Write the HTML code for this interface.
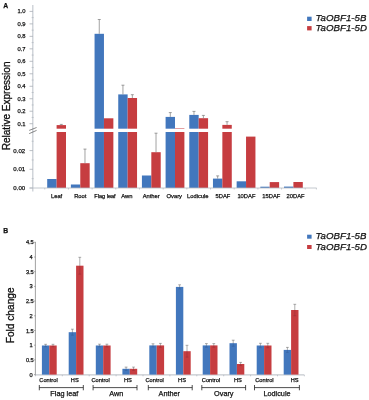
<!DOCTYPE html>
<html><head><meta charset="utf-8"><title>Figure</title>
<style>html,body{margin:0;padding:0;background:#fff;}svg{display:block;}text{font-family:"Liberation Sans",sans-serif;fill:#111;stroke:#111;stroke-width:0.25px;}</style>
</head><body>
<svg width="369" height="400" viewBox="0 0 369 400">
<rect x="0" y="0" width="369" height="400" fill="#ffffff"/>
<defs><filter id="soft" x="0" y="0" width="369" height="400" filterUnits="userSpaceOnUse"><feGaussianBlur stdDeviation="0.32"/></filter></defs>
<g opacity="0.999" filter="url(#soft)">
<text x="3.2" y="7.6" font-size="6.8" font-weight="bold" fill="#111">A</text>
<text transform="translate(9.6,150.3) rotate(-90)" font-size="10.05" fill="#111" style="stroke-width:0.32px">Relative Expression</text>
<line x1="32.8" y1="5" x2="32.8" y2="191.5" stroke="#c9ced4" stroke-width="1.3"/>
<line x1="29.5" y1="123.70" x2="32.8" y2="123.70" stroke="#9ea4ac" stroke-width="0.7"/>
<text x="25.6" y="125.75" font-size="5.8" text-anchor="end">0.1</text>
<line x1="31.6" y1="117.46" x2="33.7" y2="117.46" stroke="#aab0b8" stroke-width="0.6"/>
<line x1="29.5" y1="111.22" x2="32.8" y2="111.22" stroke="#9ea4ac" stroke-width="0.7"/>
<text x="25.6" y="113.27" font-size="5.8" text-anchor="end">0.2</text>
<line x1="31.6" y1="104.98" x2="33.7" y2="104.98" stroke="#aab0b8" stroke-width="0.6"/>
<line x1="29.5" y1="98.74" x2="32.8" y2="98.74" stroke="#9ea4ac" stroke-width="0.7"/>
<text x="25.6" y="100.79" font-size="5.8" text-anchor="end">0.3</text>
<line x1="31.6" y1="92.51" x2="33.7" y2="92.51" stroke="#aab0b8" stroke-width="0.6"/>
<line x1="29.5" y1="86.27" x2="32.8" y2="86.27" stroke="#9ea4ac" stroke-width="0.7"/>
<text x="25.6" y="88.32" font-size="5.8" text-anchor="end">0.4</text>
<line x1="31.6" y1="80.03" x2="33.7" y2="80.03" stroke="#aab0b8" stroke-width="0.6"/>
<line x1="29.5" y1="73.79" x2="32.8" y2="73.79" stroke="#9ea4ac" stroke-width="0.7"/>
<text x="25.6" y="75.84" font-size="5.8" text-anchor="end">0.5</text>
<line x1="31.6" y1="67.55" x2="33.7" y2="67.55" stroke="#aab0b8" stroke-width="0.6"/>
<line x1="29.5" y1="61.31" x2="32.8" y2="61.31" stroke="#9ea4ac" stroke-width="0.7"/>
<text x="25.6" y="63.36" font-size="5.8" text-anchor="end">0.6</text>
<line x1="31.6" y1="55.07" x2="33.7" y2="55.07" stroke="#aab0b8" stroke-width="0.6"/>
<line x1="29.5" y1="48.83" x2="32.8" y2="48.83" stroke="#9ea4ac" stroke-width="0.7"/>
<text x="25.6" y="50.88" font-size="5.8" text-anchor="end">0.7</text>
<line x1="31.6" y1="42.59" x2="33.7" y2="42.59" stroke="#aab0b8" stroke-width="0.6"/>
<line x1="29.5" y1="36.35" x2="32.8" y2="36.35" stroke="#9ea4ac" stroke-width="0.7"/>
<text x="25.6" y="38.40" font-size="5.8" text-anchor="end">0.8</text>
<line x1="31.6" y1="30.11" x2="33.7" y2="30.11" stroke="#aab0b8" stroke-width="0.6"/>
<line x1="29.5" y1="23.88" x2="32.8" y2="23.88" stroke="#9ea4ac" stroke-width="0.7"/>
<text x="25.6" y="25.93" font-size="5.8" text-anchor="end">0.9</text>
<line x1="31.6" y1="17.64" x2="33.7" y2="17.64" stroke="#aab0b8" stroke-width="0.6"/>
<line x1="29.5" y1="11.40" x2="32.8" y2="11.40" stroke="#9ea4ac" stroke-width="0.7"/>
<text x="25.6" y="13.45" font-size="5.8" text-anchor="end">1.0</text>
<line x1="29.5" y1="188.00" x2="32.8" y2="188.00" stroke="#9ea4ac" stroke-width="0.7"/>
<text x="25.2" y="190.15" font-size="6.1" text-anchor="end">0.00</text>
<line x1="29.5" y1="169.30" x2="32.8" y2="169.30" stroke="#9ea4ac" stroke-width="0.7"/>
<text x="25.2" y="171.45" font-size="6.1" text-anchor="end">0.01</text>
<line x1="29.5" y1="150.60" x2="32.8" y2="150.60" stroke="#9ea4ac" stroke-width="0.7"/>
<text x="25.2" y="152.75" font-size="6.1" text-anchor="end">0.02</text>
<line x1="31.6" y1="178.65" x2="33.7" y2="178.65" stroke="#aab0b8" stroke-width="0.6"/>
<line x1="31.6" y1="159.95" x2="33.7" y2="159.95" stroke="#aab0b8" stroke-width="0.6"/>
<line x1="31.6" y1="141.25" x2="33.7" y2="141.25" stroke="#aab0b8" stroke-width="0.6"/>
<rect x="47.20" y="179.00" width="9.40" height="9.00" fill="#4377bd"/>
<rect x="56.60" y="125.10" width="9.40" height="62.90" fill="#c63c41"/>
<line x1="61.30" y1="124.40" x2="61.30" y2="125.10" stroke="#7a7a7a" stroke-width="0.7"/>
<line x1="59.80" y1="124.40" x2="62.80" y2="124.40" stroke="#7a7a7a" stroke-width="0.7"/>
<rect x="70.88" y="184.50" width="9.40" height="3.50" fill="#4377bd"/>
<rect x="80.28" y="163.20" width="9.40" height="24.80" fill="#c63c41"/>
<line x1="84.98" y1="149.10" x2="84.98" y2="163.20" stroke="#7a7a7a" stroke-width="0.7"/>
<line x1="83.48" y1="149.10" x2="86.48" y2="149.10" stroke="#7a7a7a" stroke-width="0.7"/>
<rect x="94.56" y="33.80" width="9.40" height="154.20" fill="#4377bd"/>
<rect x="103.96" y="118.30" width="9.40" height="69.70" fill="#c63c41"/>
<line x1="99.26" y1="19.50" x2="99.26" y2="33.80" stroke="#7a7a7a" stroke-width="0.7"/>
<line x1="97.76" y1="19.50" x2="100.76" y2="19.50" stroke="#7a7a7a" stroke-width="0.7"/>
<rect x="118.24" y="94.40" width="9.40" height="93.60" fill="#4377bd"/>
<rect x="127.64" y="98.00" width="9.40" height="90.00" fill="#c63c41"/>
<line x1="122.94" y1="85.20" x2="122.94" y2="94.40" stroke="#7a7a7a" stroke-width="0.7"/>
<line x1="121.44" y1="85.20" x2="124.44" y2="85.20" stroke="#7a7a7a" stroke-width="0.7"/>
<line x1="132.34" y1="94.70" x2="132.34" y2="98.00" stroke="#7a7a7a" stroke-width="0.7"/>
<line x1="130.84" y1="94.70" x2="133.84" y2="94.70" stroke="#7a7a7a" stroke-width="0.7"/>
<rect x="141.92" y="175.50" width="9.40" height="12.50" fill="#4377bd"/>
<rect x="151.32" y="152.20" width="9.40" height="35.80" fill="#c63c41"/>
<line x1="156.02" y1="133.20" x2="156.02" y2="152.20" stroke="#7a7a7a" stroke-width="0.7"/>
<line x1="154.52" y1="133.20" x2="157.52" y2="133.20" stroke="#7a7a7a" stroke-width="0.7"/>
<rect x="165.60" y="116.90" width="9.40" height="71.10" fill="#4377bd"/>
<rect x="175.00" y="128.30" width="9.40" height="59.70" fill="#c63c41"/>
<line x1="170.30" y1="112.60" x2="170.30" y2="116.90" stroke="#7a7a7a" stroke-width="0.7"/>
<line x1="168.80" y1="112.60" x2="171.80" y2="112.60" stroke="#7a7a7a" stroke-width="0.7"/>
<rect x="189.28" y="114.90" width="9.40" height="73.10" fill="#4377bd"/>
<rect x="198.68" y="118.20" width="9.40" height="69.80" fill="#c63c41"/>
<line x1="193.98" y1="111.40" x2="193.98" y2="114.90" stroke="#7a7a7a" stroke-width="0.7"/>
<line x1="192.48" y1="111.40" x2="195.48" y2="111.40" stroke="#7a7a7a" stroke-width="0.7"/>
<line x1="203.38" y1="115.40" x2="203.38" y2="118.20" stroke="#7a7a7a" stroke-width="0.7"/>
<line x1="201.88" y1="115.40" x2="204.88" y2="115.40" stroke="#7a7a7a" stroke-width="0.7"/>
<rect x="212.96" y="178.60" width="9.40" height="9.40" fill="#4377bd"/>
<rect x="222.36" y="124.90" width="9.40" height="63.10" fill="#c63c41"/>
<line x1="217.66" y1="175.90" x2="217.66" y2="178.60" stroke="#7a7a7a" stroke-width="0.7"/>
<line x1="216.16" y1="175.90" x2="219.16" y2="175.90" stroke="#7a7a7a" stroke-width="0.7"/>
<line x1="227.06" y1="121.70" x2="227.06" y2="124.90" stroke="#7a7a7a" stroke-width="0.7"/>
<line x1="225.56" y1="121.70" x2="228.56" y2="121.70" stroke="#7a7a7a" stroke-width="0.7"/>
<rect x="236.64" y="181.30" width="9.40" height="6.70" fill="#4377bd"/>
<rect x="246.04" y="136.60" width="9.40" height="51.40" fill="#c63c41"/>
<rect x="260.32" y="186.70" width="9.40" height="1.30" fill="#4377bd"/>
<rect x="269.72" y="182.10" width="9.40" height="5.90" fill="#c63c41"/>
<rect x="284.00" y="186.60" width="9.40" height="1.40" fill="#4377bd"/>
<rect x="293.40" y="182.00" width="9.40" height="6.00" fill="#c63c41"/>
<rect x="40" y="128.7" width="285" height="3.3" fill="#ffffff"/>
<line x1="29.2" y1="130.4" x2="36.6" y2="127.5" stroke="#555" stroke-width="0.7"/>
<line x1="29.2" y1="133.6" x2="36.6" y2="130.4" stroke="#555" stroke-width="0.7"/>
<line x1="29.6" y1="188.0" x2="316.6" y2="188.0" stroke="#b4bac2" stroke-width="0.8"/>
<line x1="44.76" y1="188.0" x2="44.76" y2="189.5" stroke="#b4bac2" stroke-width="0.7"/>
<line x1="68.44" y1="188.0" x2="68.44" y2="189.5" stroke="#b4bac2" stroke-width="0.7"/>
<line x1="92.12" y1="188.0" x2="92.12" y2="189.5" stroke="#b4bac2" stroke-width="0.7"/>
<line x1="115.80" y1="188.0" x2="115.80" y2="189.5" stroke="#b4bac2" stroke-width="0.7"/>
<line x1="139.48" y1="188.0" x2="139.48" y2="189.5" stroke="#b4bac2" stroke-width="0.7"/>
<line x1="163.16" y1="188.0" x2="163.16" y2="189.5" stroke="#b4bac2" stroke-width="0.7"/>
<line x1="186.84" y1="188.0" x2="186.84" y2="189.5" stroke="#b4bac2" stroke-width="0.7"/>
<line x1="210.52" y1="188.0" x2="210.52" y2="189.5" stroke="#b4bac2" stroke-width="0.7"/>
<line x1="234.20" y1="188.0" x2="234.20" y2="189.5" stroke="#b4bac2" stroke-width="0.7"/>
<line x1="257.88" y1="188.0" x2="257.88" y2="189.5" stroke="#b4bac2" stroke-width="0.7"/>
<line x1="281.56" y1="188.0" x2="281.56" y2="189.5" stroke="#b4bac2" stroke-width="0.7"/>
<line x1="305.24" y1="188.0" x2="305.24" y2="189.5" stroke="#b4bac2" stroke-width="0.7"/>
<line x1="316.4" y1="188.0" x2="316.4" y2="189.5" stroke="#b4bac2" stroke-width="0.7"/>
<text x="56.60" y="197.7" font-size="5.8" text-anchor="middle">Leaf</text>
<text x="80.30" y="197.7" font-size="5.8" text-anchor="middle">Root</text>
<text x="105.00" y="197.7" font-size="5.55" text-anchor="middle">Flag leaf</text>
<text x="126.90" y="197.7" font-size="5.8" text-anchor="middle">Awn</text>
<text x="151.20" y="197.7" font-size="5.8" text-anchor="middle">Anther</text>
<text x="174.30" y="197.7" font-size="5.8" text-anchor="middle">Ovary</text>
<text x="197.80" y="197.7" font-size="5.8" text-anchor="middle">Lodicule</text>
<text x="223.00" y="197.7" font-size="5.8" text-anchor="middle">5DAF</text>
<text x="246.40" y="197.7" font-size="5.8" text-anchor="middle">10DAF</text>
<text x="271.30" y="197.7" font-size="5.8" text-anchor="middle">15DAF</text>
<text x="295.60" y="197.7" font-size="5.8" text-anchor="middle">20DAF</text>
<rect x="307.1" y="16.7" width="4.5" height="4.3" fill="#4377bd"/>
<rect x="307.1" y="26.1" width="4.5" height="4.3" fill="#c63c41"/>
<text x="315.6" y="20.9" font-size="9.7" font-style="italic" fill="#111">TaOBF1-5B</text>
<text x="315.6" y="30.6" font-size="9.7" font-style="italic" fill="#111">TaOBF1-5D</text>
<text x="3.2" y="232.7" font-size="6.8" font-weight="bold" fill="#111">B</text>
<text transform="translate(13.6,343.2) rotate(-90)" font-size="10.15" fill="#111" style="stroke-width:0.32px">Fold change</text>
<line x1="35.4" y1="241.9" x2="35.4" y2="375.4" stroke="#707070" stroke-width="0.65"/>
<line x1="34.1" y1="374.60" x2="35.4" y2="374.60" stroke="#707070" stroke-width="0.6"/>
<text x="32.7" y="376.65" font-size="5.7" text-anchor="end">0</text>
<line x1="34.1" y1="359.90" x2="35.4" y2="359.90" stroke="#707070" stroke-width="0.6"/>
<text x="33.8" y="361.95" font-size="5.7" text-anchor="end">0.5</text>
<line x1="34.1" y1="345.20" x2="35.4" y2="345.20" stroke="#707070" stroke-width="0.6"/>
<text x="32.7" y="347.25" font-size="5.7" text-anchor="end">1</text>
<line x1="34.1" y1="330.50" x2="35.4" y2="330.50" stroke="#707070" stroke-width="0.6"/>
<text x="33.8" y="332.55" font-size="5.7" text-anchor="end">1.5</text>
<line x1="34.1" y1="315.80" x2="35.4" y2="315.80" stroke="#707070" stroke-width="0.6"/>
<text x="32.7" y="317.85" font-size="5.7" text-anchor="end">2</text>
<line x1="34.1" y1="301.10" x2="35.4" y2="301.10" stroke="#707070" stroke-width="0.6"/>
<text x="33.8" y="303.15" font-size="5.7" text-anchor="end">2.5</text>
<line x1="34.1" y1="286.40" x2="35.4" y2="286.40" stroke="#707070" stroke-width="0.6"/>
<text x="32.7" y="288.45" font-size="5.7" text-anchor="end">3</text>
<line x1="34.1" y1="271.70" x2="35.4" y2="271.70" stroke="#707070" stroke-width="0.6"/>
<text x="33.8" y="273.75" font-size="5.7" text-anchor="end">3.5</text>
<line x1="34.1" y1="257.00" x2="35.4" y2="257.00" stroke="#707070" stroke-width="0.6"/>
<text x="32.7" y="259.05" font-size="5.7" text-anchor="end">4</text>
<line x1="34.1" y1="242.30" x2="35.4" y2="242.30" stroke="#707070" stroke-width="0.6"/>
<text x="33.8" y="244.35" font-size="5.7" text-anchor="end">4.5</text>
<line x1="35.3" y1="374.9" x2="304.3" y2="374.9" stroke="#a4aab3" stroke-width="0.8"/>
<line x1="35.40" y1="374.9" x2="35.40" y2="376.3" stroke="#a4aab3" stroke-width="0.6"/>
<line x1="62.30" y1="374.9" x2="62.30" y2="376.3" stroke="#a4aab3" stroke-width="0.6"/>
<line x1="89.20" y1="374.9" x2="89.20" y2="376.3" stroke="#a4aab3" stroke-width="0.6"/>
<line x1="116.10" y1="374.9" x2="116.10" y2="376.3" stroke="#a4aab3" stroke-width="0.6"/>
<line x1="143.00" y1="374.9" x2="143.00" y2="376.3" stroke="#a4aab3" stroke-width="0.6"/>
<line x1="169.90" y1="374.9" x2="169.90" y2="376.3" stroke="#a4aab3" stroke-width="0.6"/>
<line x1="196.80" y1="374.9" x2="196.80" y2="376.3" stroke="#a4aab3" stroke-width="0.6"/>
<line x1="223.70" y1="374.9" x2="223.70" y2="376.3" stroke="#a4aab3" stroke-width="0.6"/>
<line x1="250.60" y1="374.9" x2="250.60" y2="376.3" stroke="#a4aab3" stroke-width="0.6"/>
<line x1="277.50" y1="374.9" x2="277.50" y2="376.3" stroke="#a4aab3" stroke-width="0.6"/>
<line x1="304.40" y1="374.9" x2="304.40" y2="376.3" stroke="#a4aab3" stroke-width="0.6"/>
<rect x="41.90" y="345.50" width="7.40" height="29.10" fill="#4377bd"/>
<rect x="49.30" y="345.50" width="7.40" height="29.10" fill="#c63c41"/>
<line x1="45.60" y1="344.30" x2="45.60" y2="345.50" stroke="#6a6a6a" stroke-width="0.55"/>
<line x1="45.60" y1="345.50" x2="45.60" y2="346.70" stroke="#345f9c" stroke-width="0.55"/>
<line x1="44.20" y1="344.30" x2="47.00" y2="344.30" stroke="#6a6a6a" stroke-width="0.55"/>
<line x1="44.20" y1="346.70" x2="47.00" y2="346.70" stroke="#345f9c" stroke-width="0.55"/>
<line x1="53.00" y1="344.30" x2="53.00" y2="345.50" stroke="#6a6a6a" stroke-width="0.55"/>
<line x1="53.00" y1="345.50" x2="53.00" y2="346.70" stroke="#9a2f35" stroke-width="0.55"/>
<line x1="51.60" y1="344.30" x2="54.40" y2="344.30" stroke="#6a6a6a" stroke-width="0.55"/>
<line x1="51.60" y1="346.70" x2="54.40" y2="346.70" stroke="#9a2f35" stroke-width="0.55"/>
<rect x="68.70" y="332.20" width="7.40" height="42.40" fill="#4377bd"/>
<rect x="76.10" y="265.70" width="7.40" height="108.90" fill="#c63c41"/>
<line x1="72.40" y1="329.20" x2="72.40" y2="332.20" stroke="#6a6a6a" stroke-width="0.55"/>
<line x1="72.40" y1="332.20" x2="72.40" y2="335.20" stroke="#345f9c" stroke-width="0.55"/>
<line x1="71.00" y1="329.20" x2="73.80" y2="329.20" stroke="#6a6a6a" stroke-width="0.55"/>
<line x1="71.00" y1="335.20" x2="73.80" y2="335.20" stroke="#345f9c" stroke-width="0.55"/>
<line x1="79.80" y1="257.30" x2="79.80" y2="265.70" stroke="#6a6a6a" stroke-width="0.55"/>
<line x1="79.80" y1="265.70" x2="79.80" y2="274.10" stroke="#9a2f35" stroke-width="0.55"/>
<line x1="78.40" y1="257.30" x2="81.20" y2="257.30" stroke="#6a6a6a" stroke-width="0.55"/>
<line x1="78.40" y1="274.10" x2="81.20" y2="274.10" stroke="#9a2f35" stroke-width="0.55"/>
<rect x="95.80" y="345.50" width="7.40" height="29.10" fill="#4377bd"/>
<rect x="103.20" y="345.50" width="7.40" height="29.10" fill="#c63c41"/>
<line x1="99.50" y1="344.20" x2="99.50" y2="345.50" stroke="#6a6a6a" stroke-width="0.55"/>
<line x1="99.50" y1="345.50" x2="99.50" y2="346.80" stroke="#345f9c" stroke-width="0.55"/>
<line x1="98.10" y1="344.20" x2="100.90" y2="344.20" stroke="#6a6a6a" stroke-width="0.55"/>
<line x1="98.10" y1="346.80" x2="100.90" y2="346.80" stroke="#345f9c" stroke-width="0.55"/>
<line x1="106.90" y1="344.20" x2="106.90" y2="345.50" stroke="#6a6a6a" stroke-width="0.55"/>
<line x1="106.90" y1="345.50" x2="106.90" y2="346.80" stroke="#9a2f35" stroke-width="0.55"/>
<line x1="105.50" y1="344.20" x2="108.30" y2="344.20" stroke="#6a6a6a" stroke-width="0.55"/>
<line x1="105.50" y1="346.80" x2="108.30" y2="346.80" stroke="#9a2f35" stroke-width="0.55"/>
<rect x="122.40" y="368.80" width="7.40" height="5.80" fill="#4377bd"/>
<rect x="129.80" y="368.80" width="7.40" height="5.80" fill="#c63c41"/>
<line x1="126.10" y1="367.10" x2="126.10" y2="368.80" stroke="#6a6a6a" stroke-width="0.55"/>
<line x1="126.10" y1="368.80" x2="126.10" y2="370.50" stroke="#345f9c" stroke-width="0.55"/>
<line x1="124.70" y1="367.10" x2="127.50" y2="367.10" stroke="#6a6a6a" stroke-width="0.55"/>
<line x1="124.70" y1="370.50" x2="127.50" y2="370.50" stroke="#345f9c" stroke-width="0.55"/>
<line x1="133.50" y1="367.10" x2="133.50" y2="368.80" stroke="#6a6a6a" stroke-width="0.55"/>
<line x1="133.50" y1="368.80" x2="133.50" y2="370.50" stroke="#9a2f35" stroke-width="0.55"/>
<line x1="132.10" y1="367.10" x2="134.90" y2="367.10" stroke="#6a6a6a" stroke-width="0.55"/>
<line x1="132.10" y1="370.50" x2="134.90" y2="370.50" stroke="#9a2f35" stroke-width="0.55"/>
<rect x="149.30" y="345.40" width="7.40" height="29.20" fill="#4377bd"/>
<rect x="156.70" y="345.40" width="7.40" height="29.20" fill="#c63c41"/>
<line x1="153.00" y1="343.80" x2="153.00" y2="345.40" stroke="#6a6a6a" stroke-width="0.55"/>
<line x1="153.00" y1="345.40" x2="153.00" y2="347.00" stroke="#345f9c" stroke-width="0.55"/>
<line x1="151.60" y1="343.80" x2="154.40" y2="343.80" stroke="#6a6a6a" stroke-width="0.55"/>
<line x1="151.60" y1="347.00" x2="154.40" y2="347.00" stroke="#345f9c" stroke-width="0.55"/>
<line x1="160.40" y1="343.40" x2="160.40" y2="345.40" stroke="#6a6a6a" stroke-width="0.55"/>
<line x1="160.40" y1="345.40" x2="160.40" y2="347.40" stroke="#9a2f35" stroke-width="0.55"/>
<line x1="159.00" y1="343.40" x2="161.80" y2="343.40" stroke="#6a6a6a" stroke-width="0.55"/>
<line x1="159.00" y1="347.40" x2="161.80" y2="347.40" stroke="#9a2f35" stroke-width="0.55"/>
<rect x="175.90" y="286.90" width="7.40" height="87.70" fill="#4377bd"/>
<rect x="183.30" y="351.20" width="7.40" height="23.40" fill="#c63c41"/>
<line x1="179.60" y1="284.80" x2="179.60" y2="286.90" stroke="#6a6a6a" stroke-width="0.55"/>
<line x1="179.60" y1="286.90" x2="179.60" y2="289.00" stroke="#345f9c" stroke-width="0.55"/>
<line x1="178.20" y1="284.80" x2="181.00" y2="284.80" stroke="#6a6a6a" stroke-width="0.55"/>
<line x1="178.20" y1="289.00" x2="181.00" y2="289.00" stroke="#345f9c" stroke-width="0.55"/>
<line x1="187.00" y1="345.30" x2="187.00" y2="351.20" stroke="#6a6a6a" stroke-width="0.55"/>
<line x1="187.00" y1="351.20" x2="187.00" y2="357.10" stroke="#9a2f35" stroke-width="0.55"/>
<line x1="185.60" y1="345.30" x2="188.40" y2="345.30" stroke="#6a6a6a" stroke-width="0.55"/>
<line x1="185.60" y1="357.10" x2="188.40" y2="357.10" stroke="#9a2f35" stroke-width="0.55"/>
<rect x="202.70" y="345.40" width="7.40" height="29.20" fill="#4377bd"/>
<rect x="210.10" y="345.40" width="7.40" height="29.20" fill="#c63c41"/>
<line x1="206.40" y1="343.60" x2="206.40" y2="345.40" stroke="#6a6a6a" stroke-width="0.55"/>
<line x1="206.40" y1="345.40" x2="206.40" y2="347.20" stroke="#345f9c" stroke-width="0.55"/>
<line x1="205.00" y1="343.60" x2="207.80" y2="343.60" stroke="#6a6a6a" stroke-width="0.55"/>
<line x1="205.00" y1="347.20" x2="207.80" y2="347.20" stroke="#345f9c" stroke-width="0.55"/>
<line x1="213.80" y1="343.60" x2="213.80" y2="345.40" stroke="#6a6a6a" stroke-width="0.55"/>
<line x1="213.80" y1="345.40" x2="213.80" y2="347.20" stroke="#9a2f35" stroke-width="0.55"/>
<line x1="212.40" y1="343.60" x2="215.20" y2="343.60" stroke="#6a6a6a" stroke-width="0.55"/>
<line x1="212.40" y1="347.20" x2="215.20" y2="347.20" stroke="#9a2f35" stroke-width="0.55"/>
<rect x="229.50" y="343.20" width="7.40" height="31.40" fill="#4377bd"/>
<rect x="236.90" y="364.00" width="7.40" height="10.60" fill="#c63c41"/>
<line x1="233.20" y1="340.20" x2="233.20" y2="343.20" stroke="#6a6a6a" stroke-width="0.55"/>
<line x1="233.20" y1="343.20" x2="233.20" y2="346.20" stroke="#345f9c" stroke-width="0.55"/>
<line x1="231.80" y1="340.20" x2="234.60" y2="340.20" stroke="#6a6a6a" stroke-width="0.55"/>
<line x1="231.80" y1="346.20" x2="234.60" y2="346.20" stroke="#345f9c" stroke-width="0.55"/>
<line x1="240.60" y1="362.40" x2="240.60" y2="364.00" stroke="#6a6a6a" stroke-width="0.55"/>
<line x1="240.60" y1="364.00" x2="240.60" y2="365.60" stroke="#9a2f35" stroke-width="0.55"/>
<line x1="239.20" y1="362.40" x2="242.00" y2="362.40" stroke="#6a6a6a" stroke-width="0.55"/>
<line x1="239.20" y1="365.60" x2="242.00" y2="365.60" stroke="#9a2f35" stroke-width="0.55"/>
<rect x="256.70" y="345.50" width="7.40" height="29.10" fill="#4377bd"/>
<rect x="264.10" y="345.50" width="7.40" height="29.10" fill="#c63c41"/>
<line x1="260.40" y1="343.30" x2="260.40" y2="345.50" stroke="#6a6a6a" stroke-width="0.55"/>
<line x1="260.40" y1="345.50" x2="260.40" y2="347.70" stroke="#345f9c" stroke-width="0.55"/>
<line x1="259.00" y1="343.30" x2="261.80" y2="343.30" stroke="#6a6a6a" stroke-width="0.55"/>
<line x1="259.00" y1="347.70" x2="261.80" y2="347.70" stroke="#345f9c" stroke-width="0.55"/>
<line x1="267.80" y1="343.30" x2="267.80" y2="345.50" stroke="#6a6a6a" stroke-width="0.55"/>
<line x1="267.80" y1="345.50" x2="267.80" y2="347.70" stroke="#9a2f35" stroke-width="0.55"/>
<line x1="266.40" y1="343.30" x2="269.20" y2="343.30" stroke="#6a6a6a" stroke-width="0.55"/>
<line x1="266.40" y1="347.70" x2="269.20" y2="347.70" stroke="#9a2f35" stroke-width="0.55"/>
<rect x="283.70" y="349.90" width="7.40" height="24.70" fill="#4377bd"/>
<rect x="291.10" y="310.00" width="7.40" height="64.60" fill="#c63c41"/>
<line x1="287.40" y1="347.40" x2="287.40" y2="349.90" stroke="#6a6a6a" stroke-width="0.55"/>
<line x1="287.40" y1="349.90" x2="287.40" y2="352.40" stroke="#345f9c" stroke-width="0.55"/>
<line x1="286.00" y1="347.40" x2="288.80" y2="347.40" stroke="#6a6a6a" stroke-width="0.55"/>
<line x1="286.00" y1="352.40" x2="288.80" y2="352.40" stroke="#345f9c" stroke-width="0.55"/>
<line x1="294.80" y1="304.30" x2="294.80" y2="310.00" stroke="#6a6a6a" stroke-width="0.55"/>
<line x1="294.80" y1="310.00" x2="294.80" y2="315.70" stroke="#9a2f35" stroke-width="0.55"/>
<line x1="293.40" y1="304.30" x2="296.20" y2="304.30" stroke="#6a6a6a" stroke-width="0.55"/>
<line x1="293.40" y1="315.70" x2="296.20" y2="315.70" stroke="#9a2f35" stroke-width="0.55"/>
<text x="48.50" y="382.2" font-size="5.7" text-anchor="middle">Control</text>
<text x="100.60" y="382.2" font-size="5.7" text-anchor="middle">Control</text>
<text x="154.70" y="382.2" font-size="5.7" text-anchor="middle">Control</text>
<text x="211.00" y="382.2" font-size="5.7" text-anchor="middle">Control</text>
<text x="264.40" y="382.2" font-size="5.7" text-anchor="middle">Control</text>
<text x="74.80" y="382.2" font-size="5.7" text-anchor="middle">HS</text>
<text x="127.90" y="382.2" font-size="5.7" text-anchor="middle">HS</text>
<text x="182.00" y="382.2" font-size="5.7" text-anchor="middle">HS</text>
<text x="237.90" y="382.2" font-size="5.7" text-anchor="middle">HS</text>
<text x="294.60" y="382.2" font-size="5.7" text-anchor="middle">HS</text>
<line x1="39.3" y1="387.6" x2="83.3" y2="387.6" stroke="#222" stroke-width="0.8"/>
<line x1="39.3" y1="385" x2="39.3" y2="390.3" stroke="#222" stroke-width="0.8"/>
<line x1="83.3" y1="385" x2="83.3" y2="390.3" stroke="#222" stroke-width="0.8"/>
<line x1="93.1" y1="387.6" x2="137.0" y2="387.6" stroke="#222" stroke-width="0.8"/>
<line x1="93.1" y1="385" x2="93.1" y2="390.3" stroke="#222" stroke-width="0.8"/>
<line x1="137.0" y1="385" x2="137.0" y2="390.3" stroke="#222" stroke-width="0.8"/>
<line x1="148.3" y1="387.6" x2="192.2" y2="387.6" stroke="#222" stroke-width="0.8"/>
<line x1="148.3" y1="385" x2="148.3" y2="390.3" stroke="#222" stroke-width="0.8"/>
<line x1="192.2" y1="385" x2="192.2" y2="390.3" stroke="#222" stroke-width="0.8"/>
<line x1="201.8" y1="387.6" x2="245.6" y2="387.6" stroke="#222" stroke-width="0.8"/>
<line x1="201.8" y1="385" x2="201.8" y2="390.3" stroke="#222" stroke-width="0.8"/>
<line x1="245.6" y1="385" x2="245.6" y2="390.3" stroke="#222" stroke-width="0.8"/>
<line x1="254.5" y1="387.6" x2="299.4" y2="387.6" stroke="#222" stroke-width="0.8"/>
<line x1="254.5" y1="385" x2="254.5" y2="390.3" stroke="#222" stroke-width="0.8"/>
<line x1="299.4" y1="385" x2="299.4" y2="390.3" stroke="#222" stroke-width="0.8"/>
<text x="64.3" y="395.7" font-size="7.3" text-anchor="middle" fill="#111">Flag leaf</text>
<text x="116.4" y="395.7" font-size="7.3" text-anchor="middle" fill="#111">Awn</text>
<text x="169.3" y="395.7" font-size="7.3" text-anchor="middle" fill="#111">Anther</text>
<text x="223.8" y="395.7" font-size="7.3" text-anchor="middle" fill="#111">Ovary</text>
<text x="277.0" y="395.7" font-size="7.3" text-anchor="middle" fill="#111">Lodicule</text>
<rect x="307.1" y="234.7" width="4.5" height="4.0" fill="#4377bd"/>
<rect x="307.1" y="245.0" width="4.5" height="4.0" fill="#c63c41"/>
<text x="315.6" y="239.0" font-size="9.7" font-style="italic" fill="#111">TaOBF1-5B</text>
<text x="315.6" y="249.7" font-size="9.7" font-style="italic" fill="#111">TaOBF1-5D</text>
</g>
</svg>
</body></html>
